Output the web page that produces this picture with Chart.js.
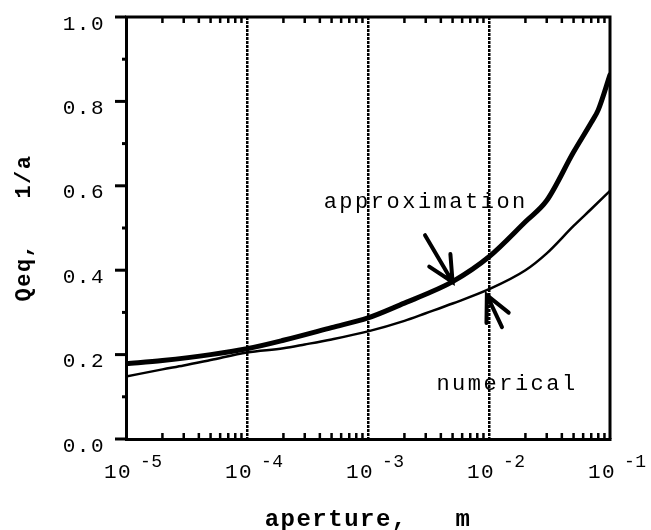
<!DOCTYPE html>
<html>
<head>
<meta charset="utf-8">
<script src="https://cdn.jsdelivr.net/npm/chart.js@4/dist/chart.umd.min.js"></script>
<style>
  html, body { margin: 0; padding: 0; background: #fff; }
  canvas { display: block; }
</style>
</head>
<body>
<canvas id="chart" width="651" height="530"></canvas>
<script>
// Equivalent recharge Qeq versus fracture aperture: approximation vs numerical solution
const apertureApprox = [1e-5, 2e-5, 5e-5, 1e-4, 2e-4, 5e-4, 1e-3, 2e-3, 3e-3, 5e-3, 1e-2, 2e-2, 3e-2, 5e-2, 7e-2, 8e-2, 1e-1];
const qeqApprox      = [0.178, 0.186, 0.200, 0.214, 0.234, 0.264, 0.287, 0.322, 0.343, 0.373, 0.432, 0.515, 0.565, 0.68, 0.75, 0.78, 0.863];

const apertureNum = [1e-5, 2e-5, 3e-5, 5e-5, 1e-4, 2e-4, 3e-4, 5e-4, 1e-3, 2e-3, 3e-3, 5e-3, 1e-2, 2e-2, 3e-2, 5e-2, 7e-2, 1e-1];
const qeqNum      = [0.148, 0.165, 0.174, 0.187, 0.205, 0.215, 0.224, 0.236, 0.255, 0.280, 0.298, 0.321, 0.355, 0.400, 0.440, 0.505, 0.545, 0.588];

const seriesNames = ['approximation', 'numerical'];

// Axis ticks
const xDecadeExps = [-5, -4, -3, -2, -1];
const xMinorMultipliers = [2, 3, 4, 5, 6, 7, 8, 9];
const yMajorTicks = [0, 0.2, 0.4, 0.6, 0.8, 1.0];
const yMinorTicks = [0.1, 0.3, 0.5, 0.7, 0.9];

const xTitle = 'aperture,   m';
const yTitle = 'Qeq,   1/a';

// In-plot labels (baseline anchor, data units) and arrows pointing at the curves
const labelAnchors = [
  { text: seriesNames[0], x: 3.0e-3, y: 0.547 },
  { text: seriesNames[1], x: 1.41e-2, y: 0.116 }
];
const arrows = [
  { from: [2.96e-3, 0.483], to: [5.0e-3, 0.372] },
  { from: [1.28e-2, 0.265], to: [9.6e-3, 0.341] }
];

const MONO = '"Liberation Mono", "Courier New", Courier, monospace';

const xTickValues = [];
xDecadeExps.forEach((e, i) => {
  xTickValues.push(Math.pow(10, e));
  if (i < xDecadeExps.length - 1) {
    xMinorMultipliers.forEach(m => xTickValues.push(m * Math.pow(10, e)));
  }
});
const isDecade = v => Math.abs(Math.log10(v) - Math.round(Math.log10(v))) < 1e-9;

const axesDecor = {
  id: 'axesDecor',
  beforeDraw(chart) {
    chart.ctx.letterSpacing = '1.5px';
  },
  afterDatasetsDraw(chart) {
    const { ctx, chartArea: a, scales: { x, y } } = chart;
    ctx.save();
    ctx.strokeStyle = '#000';
    ctx.lineCap = 'butt';

    // top and right frame
    ctx.lineWidth = 3;
    ctx.beginPath();
    ctx.moveTo(a.left - 1, a.top);
    ctx.lineTo(a.right, a.top);
    ctx.lineTo(a.right, a.bottom);
    ctx.stroke();

    // x minor ticks, pointing inward on bottom and top
    ctx.lineWidth = 2.5;
    xTickValues.forEach(v => {
      if (isDecade(v)) return;
      const px = x.getPixelForValue(v);
      ctx.beginPath();
      ctx.moveTo(px, a.bottom);
      ctx.lineTo(px, a.bottom - 6);
      ctx.moveTo(px, a.top);
      ctx.lineTo(px, a.top + 6);
      ctx.stroke();
    });

    // y ticks, pointing outward on the left
    ctx.lineWidth = 3;
    yMajorTicks.forEach(v => {
      const py = y.getPixelForValue(v);
      ctx.beginPath();
      ctx.moveTo(a.left, py);
      ctx.lineTo(a.left - 11, py);
      ctx.stroke();
    });
    yMinorTicks.forEach(v => {
      const py = y.getPixelForValue(v);
      ctx.beginPath();
      ctx.moveTo(a.left, py);
      ctx.lineTo(a.left - 4, py);
      ctx.stroke();
    });

    // x decade labels: 10 with raised exponent
    ctx.fillStyle = '#000';
    ctx.textAlign = 'left';
    ctx.textBaseline = 'alphabetic';
    xDecadeExps.forEach(e => {
      const px = x.getPixelForValue(Math.pow(10, e));
      ctx.letterSpacing = '1.5px';
      ctx.font = '21px ' + MONO;
      ctx.fillText('10', px - 22, a.bottom + 39);
      ctx.letterSpacing = '0.5px';
      ctx.font = '18px ' + MONO;
      ctx.fillText('-' + Math.abs(e), px + 14, a.bottom + 28);
    });

    // series labels
    ctx.letterSpacing = '2.5px';
    ctx.font = '22px ' + MONO;
    ctx.textAlign = 'center';
    labelAnchors.forEach(l => {
      ctx.fillText(l.text, x.getPixelForValue(l.x), y.getPixelForValue(l.y));
    });

    // arrows
    ctx.lineWidth = 4;
    ctx.lineCap = 'round';
    const headLen = 28, headAng = 26 * Math.PI / 180;
    arrows.forEach(ar => {
      const x0 = x.getPixelForValue(ar.from[0]), y0 = y.getPixelForValue(ar.from[1]);
      const x1 = x.getPixelForValue(ar.to[0]), y1 = y.getPixelForValue(ar.to[1]);
      const ang = Math.atan2(y0 - y1, x0 - x1);
      ctx.beginPath();
      ctx.moveTo(x0, y0);
      ctx.lineTo(x1, y1);
      ctx.moveTo(x1 + headLen * Math.cos(ang - headAng), y1 + headLen * Math.sin(ang - headAng));
      ctx.lineTo(x1, y1);
      ctx.lineTo(x1 + headLen * Math.cos(ang + headAng), y1 + headLen * Math.sin(ang + headAng));
      ctx.stroke();
    });
    ctx.restore();
  }
};

new Chart(document.getElementById('chart'), {
  type: 'line',
  data: {
    datasets: [
      {
        label: seriesNames[0],
        data: apertureApprox.map((v, i) => ({ x: v, y: qeqApprox[i] })),
        borderColor: '#000',
        borderWidth: 5,
        pointRadius: 0,
        cubicInterpolationMode: 'monotone',
        borderJoinStyle: 'round',
        borderCapStyle: 'round'
      },
      {
        label: seriesNames[1],
        data: apertureNum.map((v, i) => ({ x: v, y: qeqNum[i] })),
        borderColor: '#000',
        borderWidth: 2.5,
        pointRadius: 0,
        cubicInterpolationMode: 'monotone',
        borderJoinStyle: 'round'
      }
    ]
  },
  options: {
    responsive: false,
    animation: false,
    devicePixelRatio: 1,
    layout: { padding: { top: 17, right: 41, left: 0, bottom: 0 } },
    plugins: {
      legend: { display: false },
      tooltip: { enabled: false }
    },
    scales: {
      x: {
        type: 'logarithmic',
        min: 1e-5,
        max: 1e-1,
        afterBuildTicks: s => { s.ticks = xTickValues.map(v => ({ value: v })); },
        afterFit: s => { s.height = 91; s.paddingLeft = 0; s.paddingRight = 0; },
        ticks: { display: false, autoSkip: false },
        grid: {
          drawTicks: false,
          lineWidth: 2.5,
          color: c => (c.tick && isDecade(c.tick.value) && c.tick.value > 1e-5 && c.tick.value < 1e-1) ? '#000' : 'rgba(0,0,0,0)'
        },
        border: { display: true, color: '#000', width: 3, dash: [3, 1] },
        title: {
          display: true,
          text: xTitle,
          color: '#000',
          font: { family: MONO, size: 24, weight: 'bold', lineHeight: 0.6 },
          padding: { top: 0, bottom: 3 }
        }
      },
      y: {
        min: 0,
        max: 1,
        afterBuildTicks: s => { s.ticks = yMajorTicks.map(v => ({ value: v })); },
        afterFit: s => { s.width = 126; s.paddingTop = 0; s.paddingBottom = 0; },
        ticks: {
          color: '#000',
          padding: 21,
          labelOffset: 7,
          font: { family: MONO, size: 21 },
          callback: v => Number(v).toFixed(1)
        },
        grid: { display: false, drawTicks: false },
        border: { display: true, color: '#000', width: 3 },
        title: {
          display: true,
          text: yTitle,
          color: '#000',
          font: { family: MONO, size: 22, weight: 'bold' },
          padding: { top: 11, bottom: 0 }
        }
      }
    }
  },
  plugins: [axesDecor]
});
</script>
</body>
</html>
